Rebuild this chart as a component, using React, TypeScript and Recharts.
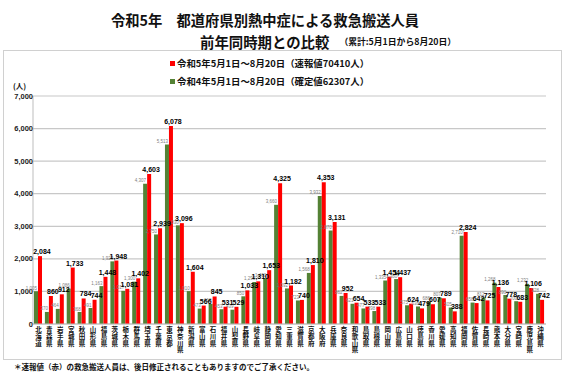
import React from 'react';
import { BarChart, Bar, XAxis, YAxis, CartesianGrid, LabelList } from 'recharts';

const prefectures = ['北海道','青森県','岩手県','宮城県','秋田県','山形県','福島県','茨城県','栃木県','群馬県','埼玉県','千葉県','東京都','神奈川県','新潟県','富山県','石川県','福井県','山梨県','長野県','岐阜県','静岡県','愛知県','三重県','滋賀県','京都府','大阪府','兵庫県','奈良県','和歌山県','鳥取県','島根県','岡山県','広島県','山口県','徳島県','香川県','愛媛県','高知県','福岡県','佐賀県','長崎県','熊本県','大分県','宮崎県','鹿児島県','沖縄県'];

const r5Values = [2084, 860, 912, 1733, 784, 744, 1448, 1948, 1081, 1402, 4603, 2939, 6078, 3096, 1604, 566, 845, 531, 529, 1033, 1310, 1653, 4325, 1182, 740, 1810, 4353, 3131, 952, 654, 533, 533, 1454, 1437, 624, 479, 607, 789, 388, 2824, 642, 725, 1136, 778, 683, 1106, 742];

const r4Values = [1005, 370, 464, 1086, 368, 491, 1163, 1923, 1017, 1300, 4307, 2750, 5513, 3030, 1010, 473, 618, 453, 439, 850, 1290, 1400, 3660, 1092, 723, 1568, 3932, 2870, 862, 621, 477, 398, 1335, 1380, 575, 538, 686, 807, 505, 2710, 658, 812, 1268, 890, 700, 1232, 928];

const yTicks = [0, 1000, 2000, 3000, 4000, 5000, 6000, 7000];

const titleLine1 = '令和5年　都道府県別熱中症による救急搬送人員';
const titleLine2 = '前年同時期との比較';
const titleNote = '（累計:5月1日から8月20日）';
const legendR5 = '令和5年5月1日～8月20日（速報値70410人）';
const legendR4 = '令和4年5月1日～8月20日（確定値62307人）';
const unitLabel = '(人)';
const footnote = '＊速報値（赤）の救急搬送人員は、後日修正されることもありますのでご了承ください。';

const RED = '#ff0000';
const GREEN = '#548235';
const JP = '"Noto Sans CJK JP", "Noto Sans", sans-serif';
const NUM = '"Liberation Sans", Arial, sans-serif';

const data = prefectures.map((p, i) => ({ name: p, r4: r4Values[i], r5: r5Values[i] }));

const fmt = (v: number) => v.toLocaleString('en-US');

const XTick = (props: any) => {
  const { x, y, payload } = props;
  const chars: string[] = String(payload.value).split('');
  return (
    <g>
      {chars.map((c, i) => (
        <text key={i} x={x} y={y + 5 + i * 6.8} textAnchor="middle" dominantBaseline="central"
          fontSize={6.5} fontWeight={700} fontFamily={JP} fill="#111">{c}</text>
      ))}
    </g>
  );
};

const YTick = (props: any) => {
  const { x, y, payload } = props;
  return (
    <text x={x} y={y} textAnchor="end" dominantBaseline="central" fontSize={7.5} fontWeight={700}
      fontFamily={NUM} fill="#222">{fmt(payload.value)}</text>
  );
};

const RedLabel = (props: any) => {
  const { x, y, width, value } = props;
  return (
    <text x={x + width / 2 + 2} y={y - 2} textAnchor="middle" fontSize={7} fontWeight={700}
      fontFamily={NUM} fill="#000">{fmt(value)}</text>
  );
};

const GreenLabel = (props: any) => {
  const { x, y, width, value } = props;
  return (
    <text x={x + width - 1} y={y - 1.5} textAnchor="end" fontSize={4.5}
      fontFamily={NUM} fill="#808080">{fmt(value)}</text>
  );
};

const legendItems = [{ c: RED, t: legendR5, top: 57 }, { c: GREEN, t: legendR4, top: 75 }];

export default function App() {
  return (
    <div style={{ position: 'absolute', left: 0, top: 0, width: 567, height: 375, background: '#fff', overflow: 'hidden' }}>
      <div style={{ position: 'absolute', left: 3, top: 50, width: 557, height: 308, border: '1px solid #d0d0d0' }} />
      <div style={{ position: 'absolute', left: 0, top: 12, width: 530, textAlign: 'center', fontFamily: JP, fontWeight: 700, fontSize: 14.3, lineHeight: '16px', color: '#111', whiteSpace: 'nowrap' }}>{titleLine1}</div>
      <div style={{ position: 'absolute', left: 200, top: 33, height: 18, display: 'flex', alignItems: 'center', whiteSpace: 'nowrap', fontFamily: JP, fontWeight: 700, color: '#111' }}>
        <span style={{ fontSize: 14.4, lineHeight: '18px' }}>{titleLine2}</span>
        <span style={{ fontSize: 8.8, marginLeft: 10, lineHeight: '18px' }}>{titleNote}</span>
      </div>
      {legendItems.map((it, i) => (
        <div key={i} style={{ position: 'absolute', left: 170, top: it.top, display: 'flex', alignItems: 'center', height: 12, whiteSpace: 'nowrap' }}>
          <span style={{ display: 'inline-block', width: 5, height: 5, background: it.c, marginRight: 2 }} />
          <span style={{ fontFamily: JP, fontWeight: 700, fontSize: 9.4, color: '#111', lineHeight: '12px' }}>{it.t}</span>
        </div>
      ))}
      <div style={{ position: 'absolute', left: 13, top: 81, fontFamily: JP, fontWeight: 700, fontSize: 7.5, lineHeight: '10px', color: '#111' }}>{unitLabel}</div>
      <div style={{ position: 'absolute', left: 0, top: 0 }}>
        <BarChart width={567} height={375} data={data} margin={{ top: 96, right: 21, bottom: 5, left: 8 }}
          barCategoryGap="9%" barGap={0}>
          <CartesianGrid vertical={false} stroke="#c8c8c8" strokeWidth={1.2} />
          <XAxis dataKey="name" interval={0} height={46} tickLine={false} tickSize={0} tickMargin={0}
            axisLine={{ stroke: '#bdbdbd' }} tick={<XTick />} />
          <YAxis domain={[0, 7000]} ticks={yTicks} width={25} tickLine={false} tickSize={0} tickMargin={0}
            axisLine={{ stroke: '#bdbdbd' }} tick={<YTick />} />
          <Bar dataKey="r4" fill={GREEN} isAnimationActive={false}>
            <LabelList dataKey="r4" content={<GreenLabel />} />
          </Bar>
          <Bar dataKey="r5" fill={RED} isAnimationActive={false}>
            <LabelList dataKey="r5" content={<RedLabel />} />
          </Bar>
        </BarChart>
      </div>
      <div style={{ position: 'absolute', left: 14, top: 362, fontFamily: JP, fontWeight: 700, fontSize: 7.5, lineHeight: '10px', color: '#111', whiteSpace: 'nowrap' }}>{footnote}</div>
    </div>
  );
}
